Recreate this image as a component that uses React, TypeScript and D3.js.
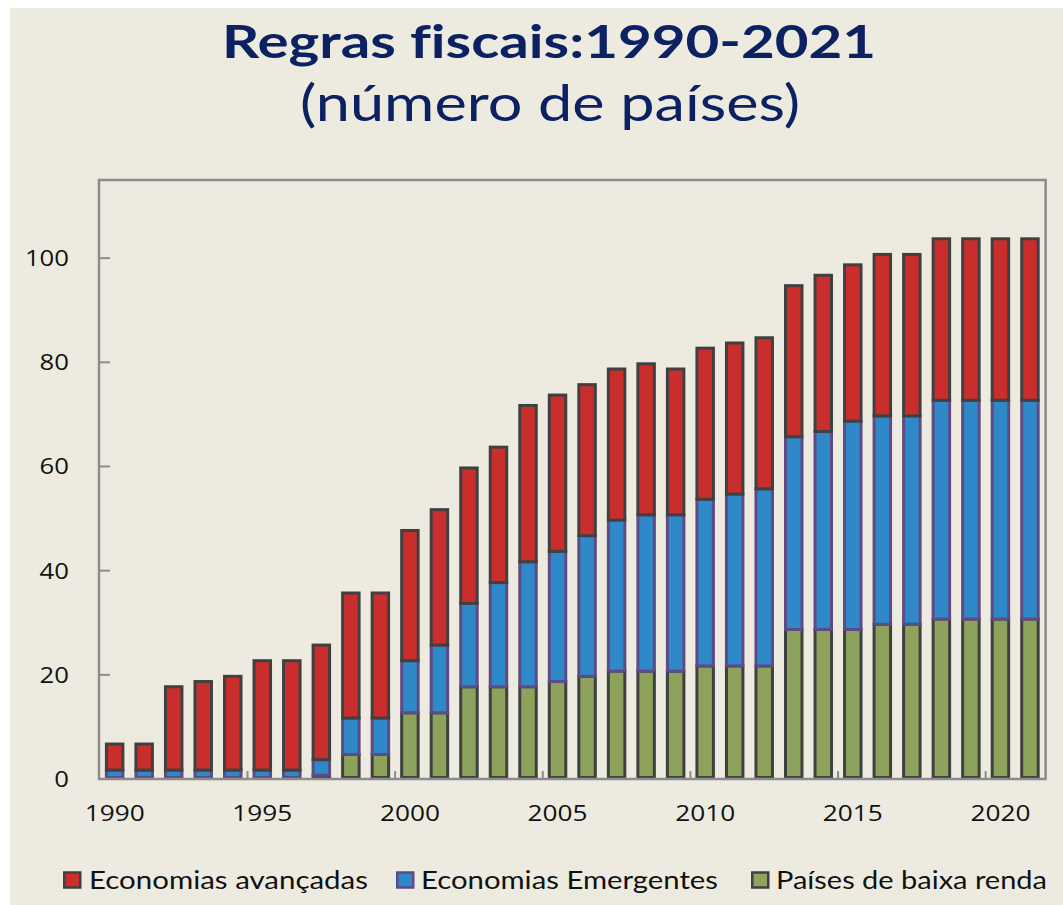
import React from "react";
import * as d3 from "d3";

const years: number[] = d3.range(1990, 2022);
// Países de baixa renda
const lowIncome: number[] = [0, 0, 0, 0, 0, 0, 0, 1, 5, 5, 13, 13, 18, 18, 18, 19, 20, 21, 21, 21, 22, 22, 22, 29, 29, 29, 30, 30, 31, 31, 31, 31];
// Economias Emergentes (own count)
const emerging: number[] = [2, 2, 2, 2, 2, 2, 2, 3, 7, 7, 10, 13, 16, 20, 24, 25, 27, 29, 30, 30, 32, 33, 34, 37, 38, 40, 40, 40, 42, 42, 42, 42];
// Economias avançadas (own count)
const advanced: number[] = [5, 5, 16, 17, 18, 21, 21, 22, 24, 24, 25, 26, 26, 26, 30, 30, 29, 29, 29, 28, 29, 29, 29, 29, 30, 30, 31, 31, 31, 31, 31, 31];

const seriesNames = ["Países de baixa renda", "Economias Emergentes", "Economias avançadas"];
const legendOrder = ["Economias avançadas", "Economias Emergentes", "Países de baixa renda"];
const yTicks = [0, 20, 40, 60, 80, 100];
const xLabelYears = [1990, 1995, 2000, 2005, 2010, 2015, 2020];
const xTickYears = [1995, 2000, 2005, 2010, 2015, 2020];

const fills: Record<string, string> = {
  "Economias avançadas": "#C92E2D",
  "Economias Emergentes": "#2F89C8",
  "Países de baixa renda": "#8DA35B",
};
const strokes: Record<string, string> = {
  "Economias avançadas": "#404040",
  "Economias Emergentes": "#5E4A86",
  "Países de baixa renda": "#404040",
};

export default function App() {
  const W = 1063, H = 905;
  const left = 99, right = 1045.6, bottom = 779, top = 180;
  const x = d3.scaleBand<number>().domain(years).range([left, right]).paddingInner(0.34).paddingOuter(0.2);
  const y = d3.scaleLinear().domain([0, 115]).range([bottom, top]);

  const table = years.map((yr, i) => ({
    year: yr,
    "Países de baixa renda": lowIncome[i],
    "Economias Emergentes": emerging[i],
    "Economias avançadas": advanced[i],
  }));
  const stacked = d3.stack<any>().keys(seriesNames)(table);

  const bw = x.bandwidth();
  const sw = 3;
  const axisColor = "#8C8C8C";
  const navy = "#0B2161";
  const textFont = "'Open Sans', sans-serif";

  const legendItems = [
    { name: legendOrder[0], sx: 63, tx: 89, tlen: 279 },
    { name: legendOrder[1], sx: 396, tx: 421, tlen: 297 },
    { name: legendOrder[2], sx: 751, tx: 776, tlen: 271 },
  ];

  return (
    <svg width={W} height={H} style={{ position: "absolute", left: 0, top: 0, fontVariantLigatures: "none" }}>
      <rect x={0} y={0} width={W} height={H} fill="#ffffff" />
      <rect x={10} y={8} width={W - 10} height={H - 8} fill="#EDEBE0" />

      <text x={222} y={58} fill={navy} fontFamily="Lato, sans-serif" fontWeight="bold" fontSize={46}
        textLength={654} lengthAdjust="spacingAndGlyphs" style={{ fontVariantLigatures: "none" }}>Regras fiscais:1990-2021</text>
      <text x={300} y={121} fill={navy} fontFamily="Lato, sans-serif" fontSize={51}
        textLength={500} lengthAdjust="spacingAndGlyphs">(número de países)</text>

      {/* bars */}
      {stacked.map((s) => (
        <g key={s.key}>
          {s.map((d: any, i: number) => {
            const v = d[1] - d[0];
            if (v <= 0) return null;
            const yr = years[i];
            const y0 = y(d[0]);
            const y1 = y(d[1]);
            const bottomEdge = d[0] === 0 ? y0 - sw / 2 : y0 + sw / 2;
            return (
              <rect key={yr}
                x={(x(yr) as number) + sw / 2}
                y={y1 + sw / 2}
                width={bw - sw}
                height={Math.max(0, bottomEdge - (y1 + sw / 2))}
                fill={fills[s.key]}
                stroke={strokes[s.key]}
                strokeWidth={sw} />
            );
          })}
        </g>
      ))}

      {/* frame */}
      <rect x={left} y={top} width={right - left} height={bottom - top} fill="none" stroke={axisColor} strokeWidth={2.5} />

      {/* y ticks */}
      {yTicks.map((t) => (
        <g key={t}>
          {t > 0 && <line x1={left} x2={left + 11} y1={y(t)} y2={y(t)} stroke={axisColor} strokeWidth={2} />}
          <text x={69} y={y(t) + 8} textAnchor="end" fontFamily={textFont} fontSize={22} fill="#111"
            textLength={14.7 * String(t).length} lengthAdjust="spacingAndGlyphs">{t}</text>
        </g>
      ))}

      {/* x ticks */}
      {xTickYears.map((yr) => {
        const xp = (x(yr) as number) - (x.step() * x.paddingInner()) / 2;
        return <line key={yr} x1={xp} x2={xp} y1={bottom} y2={bottom - 8} stroke={axisColor} strokeWidth={2} />;
      })}
      {xLabelYears.map((yr) => (
        <text key={yr} x={(x(yr) as number) + bw / 2} y={821} textAnchor="middle" fontFamily={textFont} fontSize={22}
          fill="#111" textLength={60} lengthAdjust="spacingAndGlyphs">{yr}</text>
      ))}

      {/* legend */}
      {legendItems.map((it) => (
        <g key={it.name}>
          <rect x={it.sx + 1.25} y={872.5} width={16} height={15} fill={fills[it.name]} stroke={strokes[it.name]} strokeWidth={2.5} />
          <text x={it.tx} y={889} fontFamily="Lato, sans-serif" fontSize={25} fill="#111"
            textLength={it.tlen} lengthAdjust="spacingAndGlyphs">{it.name}</text>
        </g>
      ))}
    </svg>
  );
}
